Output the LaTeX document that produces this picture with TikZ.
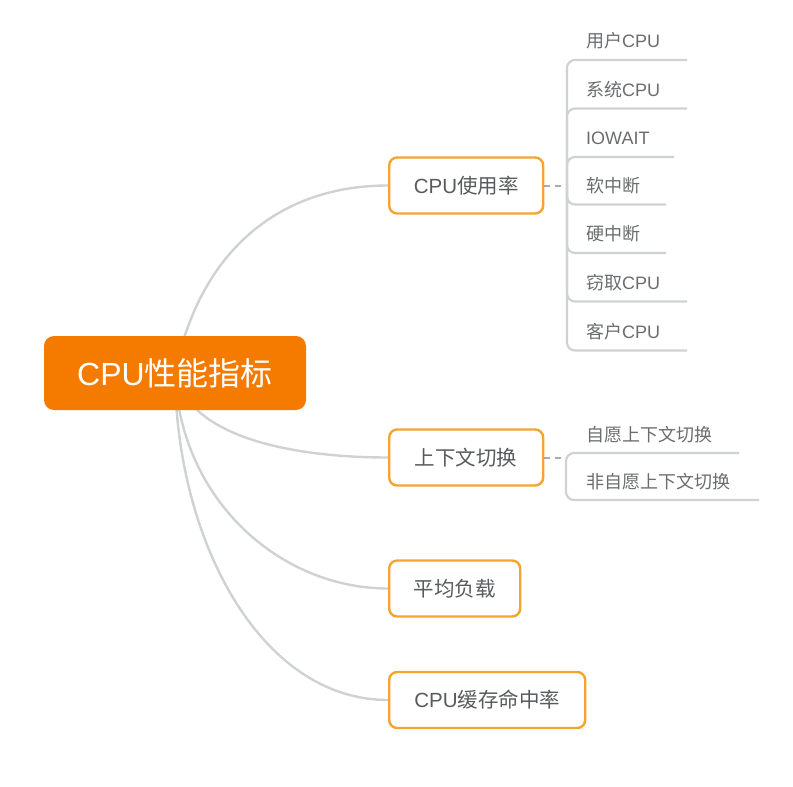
\documentclass[tikz,border=0pt]{standalone}
\usepackage{fontspec}
\setmainfont{Noto Sans CJK SC}
\newfontfamily\lat{Liberation Sans}
\usetikzlibrary{backgrounds}
\definecolor{rootorange}{HTML}{F57B00}
\definecolor{boxorange}{HTML}{F5A430}
\definecolor{linegray}{HTML}{CFD2D3}
\definecolor{dashgray}{HTML}{A9ABAD}
\definecolor{childtext}{HTML}{585A5C}
\definecolor{leaftext}{HTML}{6A6C6E}
\begin{document}
\begin{tikzpicture}[x=1pt,y=-1pt,
  rootbox/.style={fill=rootorange, rounded corners=10pt, minimum width=262pt,
    minimum height=74pt, inner sep=0pt, text=white,
    font=\fontsize{32}{32}\selectfont},
  childbox/.style={draw=boxorange, line width=2.4pt, rounded corners=8pt,
    fill=white, minimum height=56pt, inner sep=0pt, anchor=west,
    text=childtext, font=\fontsize{20.5}{20.5}\selectfont},
  leaf/.style={anchor=west, inner sep=0pt, text=leaftext,
    font=\fontsize{18}{18}\selectfont},
  branch/.style={draw=linegray, line width=2.4pt},
  leafline/.style={draw=linegray, line width=2.2pt, rounded corners=8pt},
  dashline/.style={draw=dashgray, line width=2pt, dash pattern=on 6pt off 5pt}
]
\useasboundingbox (0,0) rectangle (793,787);

% central topic and main branches
\node[rootbox] (root) at (175,373) {{\lat CPU}性能指标};
\node[childbox, minimum width=154pt] (usage) at (388,185.5) {{\lat CPU}使用率};
\node[childbox, minimum width=154pt] (ctx)   at (388,457.5) {上下文切换};
\node[childbox, minimum width=131pt] (load)  at (388,588.5) {平均负载};
\node[childbox, minimum width=196pt] (cache) at (388,700) {{\lat CPU}缓存命中率};

\begin{scope}[on background layer]
  \draw[branch] (root.center) .. controls (200,250) and (280,185.5) .. (usage.west);
  \draw[branch] (root.center) .. controls (190,440) and (300,457.5) .. (ctx.west);
  \draw[branch] (root.center) .. controls (180,500) and (280,588.5) .. (load.west);
  \draw[branch] (root.center) .. controls (176,540) and (260,700) .. (cache.west);
\end{scope}

% CPU usage sub-items
\coordinate (j1) at (567,185.5);
\draw[dashline] (usage.east) -- (j1);
\coordinate (u1) at (687,60);
\coordinate (u2) at (687,108.5);
\coordinate (u3) at (674,157);
\coordinate (u4) at (666,204.5);
\coordinate (u5) at (666,253);
\coordinate (u6) at (687,301.5);
\coordinate (u7) at (687,350.5);
\draw[leafline] (u1) -| (j1) |- (u7);
\draw[leafline] (j1) |- (u2);
\draw[leafline] (j1) |- (u3);
\draw[leafline] (j1) |- (u4);
\draw[leafline] (j1) |- (u5);
\draw[leafline] (j1) |- (u6);
\node[leaf] (l1) at (586,41)    {用户{\lat CPU}};
\node[leaf] (l2) at (586,89.5)  {系统{\lat CPU}};
\node[leaf] (l3) at (586,138)   {\lat IOWAIT};
\node[leaf] (l4) at (586,185.5) {软中断};
\node[leaf] (l5) at (586,234)   {硬中断};
\node[leaf] (l6) at (586,282.5) {窃取{\lat CPU}};
\node[leaf] (l7) at (586,331.5) {客户{\lat CPU}};

% context switch sub-items
\coordinate (j2) at (566,457.5);
\coordinate (j2b) at (566,478);
\draw[dashline] (ctx.east) -- (j2);
\coordinate (v1) at (739,453);
\coordinate (v2) at (759,500);
\draw[leafline] (v1) -| (j2b) |- (v2);
\node[leaf] (c1) at (586,434.5) {自愿上下文切换};
\node[leaf] (c2) at (586,481.5) {非自愿上下文切换};
\end{tikzpicture}
\end{document}
